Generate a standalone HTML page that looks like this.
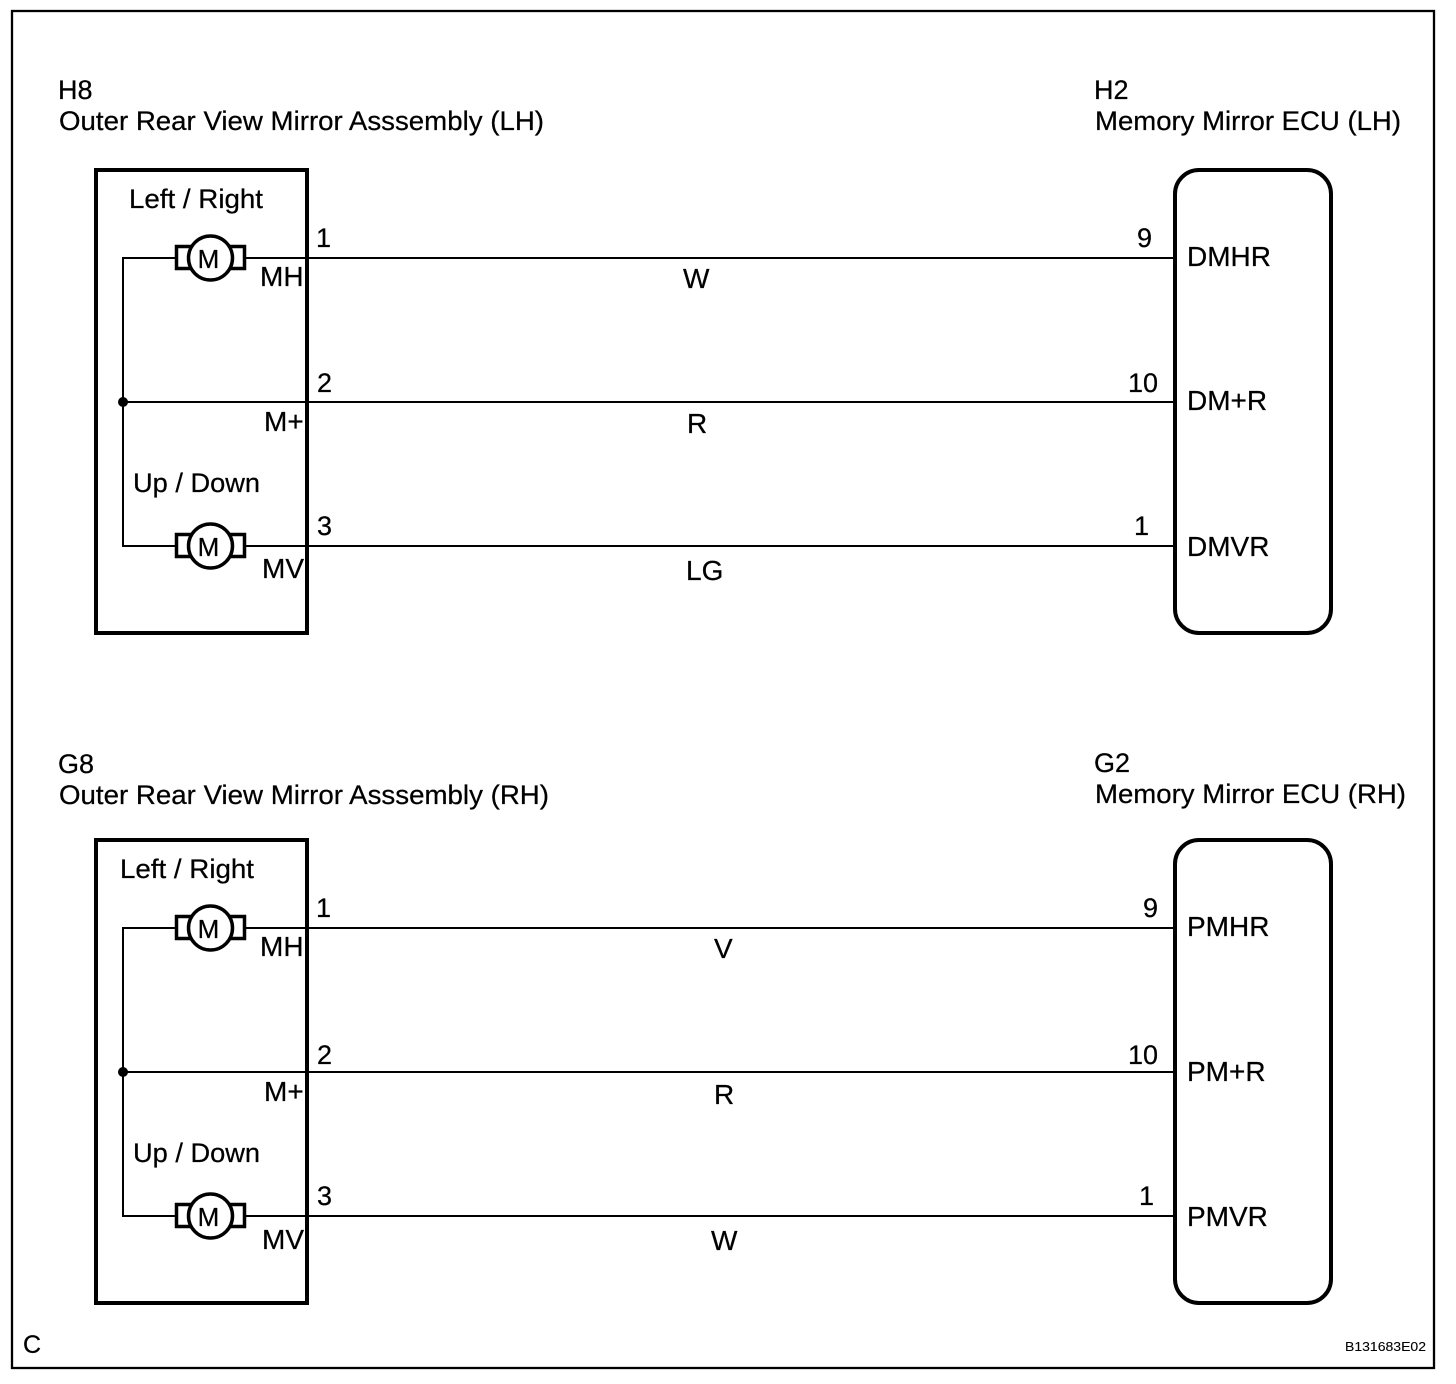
<!DOCTYPE html>
<html><head><meta charset="utf-8"><style>
html,body{margin:0;padding:0;background:#fff}
svg{display:block}
text{font-family:"Liberation Sans",Arial,sans-serif;font-size:27px;fill:#000;stroke:#000;stroke-width:.25}
.w{font-size:28px}
.l{stroke:#000;stroke-width:2;fill:none}
.b{stroke:#000;stroke-width:3.5;fill:none}
.f{font-size:26px}
</style></head><body>
<svg width="1456" height="1384" viewBox="0 0 1456 1384" xmlns="http://www.w3.org/2000/svg">
<rect x="12" y="11" width="1422" height="1357" fill="none" stroke="#000" stroke-width="2.3"/>

<defs>
<g id="motor">
<rect x="176.500" y="-11.500" width="16" height="22" class="b" style="fill:#fff"/>
<rect x="229" y="-11.500" width="15.500" height="22" class="b" style="fill:#fff"/>
<circle cx="210.500" cy="0" r="22" class="b" style="fill:#fff"/>
</g>
</defs>

<!-- Upper -->
<text x="58" y="99">H8</text>
<text x="59" y="130" textLength="485" lengthAdjust="spacingAndGlyphs">Outer Rear View Mirror Asssembly (LH)</text>
<text x="1094" y="99">H2</text>
<text x="1095" y="130" textLength="306" lengthAdjust="spacingAndGlyphs">Memory Mirror ECU (LH)</text>
<rect x="96" y="170" width="211" height="463" fill="none" stroke="#000" stroke-width="4"/>
<rect x="1175" y="170" width="156" height="463" rx="24" ry="24" fill="none" stroke="#000" stroke-width="4"/>
<path class="l" d="M175 258H123V546H175M246 258H1175M123 402H1175M246 546H1175"/>
<circle cx="123" cy="402" r="5" fill="#000"/>
<use href="#motor" x="0" y="258"/>
<use href="#motor" x="0" y="546"/>
<text x="129" y="208" textLength="134" lengthAdjust="spacingAndGlyphs">Left / Right</text>
<text x="133" y="492" textLength="127" lengthAdjust="spacingAndGlyphs">Up / Down</text>
<text x="208.500" y="268" text-anchor="middle" class="f">M</text>
<text x="208.500" y="556" text-anchor="middle" class="f">M</text>
<text x="260" y="286" class="w">MH</text>
<text x="264" y="431" class="w">M+</text>
<text x="262" y="578" class="w">MV</text>
<text x="316" y="247">1</text>
<text x="317" y="392">2</text>
<text x="317" y="535">3</text>
<text x="1137" y="247">9</text>
<text x="1128" y="392">10</text>
<text x="1134" y="535">1</text>
<text x="1187" y="266" class="w">DMHR</text>
<text x="1187" y="410" class="w">DM+R</text>
<text x="1187" y="556" class="w">DMVR</text>
<text x="683" y="288" class="w">W</text>
<text x="687" y="433" class="w">R</text>
<text x="686" y="580" class="w">LG</text>

<!-- Lower -->
<text x="58" y="773">G8</text>
<text x="59" y="804" textLength="490" lengthAdjust="spacingAndGlyphs">Outer Rear View Mirror Asssembly (RH)</text>
<text x="1094" y="772">G2</text>
<text x="1095" y="803" textLength="311" lengthAdjust="spacingAndGlyphs">Memory Mirror ECU (RH)</text>
<rect x="96" y="840" width="211" height="463" fill="none" stroke="#000" stroke-width="4"/>
<rect x="1175" y="840" width="156" height="463" rx="24" ry="24" fill="none" stroke="#000" stroke-width="4"/>
<path class="l" d="M175 928H123V1216H175M246 928H1175M123 1072H1175M246 1216H1175"/>
<circle cx="123" cy="1072" r="5" fill="#000"/>
<use href="#motor" x="0" y="928"/>
<use href="#motor" x="0" y="1216"/>
<text x="120" y="878" textLength="134" lengthAdjust="spacingAndGlyphs">Left / Right</text>
<text x="133" y="1162" textLength="127" lengthAdjust="spacingAndGlyphs">Up / Down</text>
<text x="208.500" y="938" text-anchor="middle" class="f">M</text>
<text x="208.500" y="1226" text-anchor="middle" class="f">M</text>
<text x="260" y="956" class="w">MH</text>
<text x="264" y="1101" class="w">M+</text>
<text x="262" y="1249" class="w">MV</text>
<text x="316" y="917">1</text>
<text x="317" y="1064">2</text>
<text x="317" y="1205">3</text>
<text x="1143" y="917">9</text>
<text x="1128" y="1064">10</text>
<text x="1139" y="1205">1</text>
<text x="1187" y="936" class="w">PMHR</text>
<text x="1187" y="1081" class="w">PM+R</text>
<text x="1187" y="1226" class="w">PMVR</text>
<text x="714" y="958" class="w">V</text>
<text x="714" y="1104" class="w">R</text>
<text x="711" y="1250" class="w">W</text>

<text x="23" y="1353" style="font-size:25px">C</text>
<text x="1345" y="1351" style="font-size:13px;stroke-width:.1" textLength="81" lengthAdjust="spacingAndGlyphs">B131683E02</text>
</svg>
</body></html>
